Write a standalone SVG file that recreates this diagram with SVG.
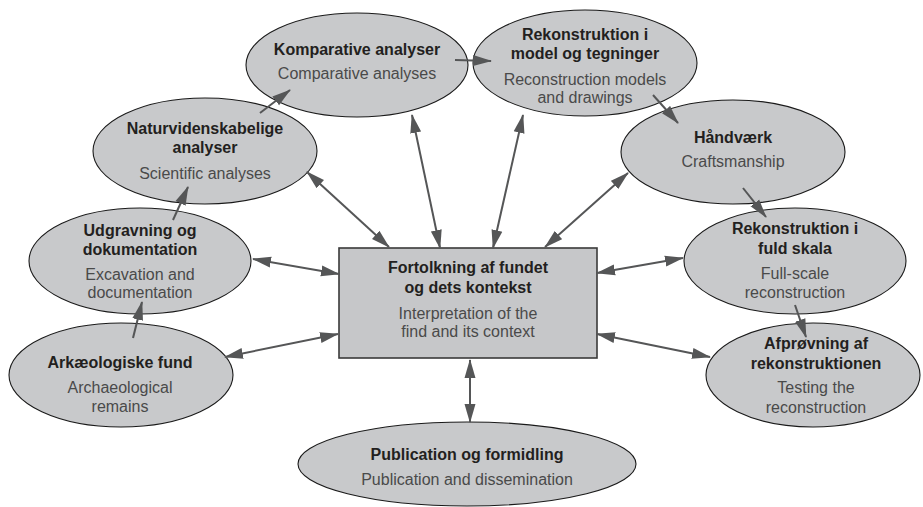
<svg xmlns="http://www.w3.org/2000/svg" width="923" height="507" viewBox="0 0 923 507">
<style>
.bg{fill:#ffffff}
.node ellipse{fill:#c8c9cb;stroke:#1a1a1a;stroke-width:1.1}
.node rect{fill:#c6c7c9;stroke:#3a3a3a;stroke-width:1.6}
.t{font-family:"Liberation Sans",Arial,Helvetica,sans-serif;font-size:16px;font-weight:bold;fill:#231f20;text-anchor:middle}
.s{font-family:"Liberation Sans",Arial,Helvetica,sans-serif;font-size:16px;fill:#4a4a4a;text-anchor:middle}
.c line{stroke:#555657;stroke-width:2;fill:none}
.one{marker-end:url(#ah)}
.two{marker-end:url(#ah);marker-start:url(#ah)}
</style>
<defs>
<marker id="ah" markerUnits="userSpaceOnUse" markerWidth="20" markerHeight="12" viewBox="0 0 20 12" refX="18" refY="6" orient="auto-start-reverse">
<path d="M0,0.5 L19,6 L0,11.5 z" fill="#555657"/>
</marker>
</defs>
<rect class="bg" x="0" y="0" width="923" height="507"/>

<g id="n-komparative" class="node">
<ellipse cx="357" cy="65" rx="111" ry="52"/>
<text class="t" x="357" y="55">Komparative analyser</text>
<text class="s" x="357" y="79">Comparative analyses</text>
</g>
<g id="n-model" class="node">
<ellipse cx="585" cy="63" rx="112" ry="53"/>
<text class="t" x="585" y="40">Rekonstruktion i</text>
<text class="t" x="585" y="59">model og tegninger</text>
<text class="s" x="585" y="85">Reconstruction models</text>
<text class="s" x="585" y="103">and drawings</text>
</g>
<g id="n-haandvaerk" class="node">
<ellipse cx="733" cy="152" rx="112" ry="52"/>
<text class="t" x="733" y="143">Håndværk</text>
<text class="s" x="733" y="167">Craftsmanship</text>
</g>
<g id="n-fuldskala" class="node">
<ellipse cx="795" cy="261" rx="111" ry="53"/>
<text class="t" x="795" y="234">Rekonstruktion i</text>
<text class="t" x="795" y="254">fuld skala</text>
<text class="s" x="795" y="279">Full-scale</text>
<text class="s" x="795" y="298">reconstruction</text>
</g>
<g id="n-afproevning" class="node">
<ellipse cx="813" cy="375" rx="107" ry="52"/>
<text class="t" x="816" y="349">Afprøvning af</text>
<text class="t" x="816" y="369">rekonstruktionen</text>
<text class="s" x="816" y="393">Testing the</text>
<text class="s" x="816" y="413">reconstruction</text>
</g>
<g id="n-naturvid" class="node">
<ellipse cx="205" cy="151" rx="112" ry="53"/>
<text class="t" x="205" y="134">Naturvidenskabelige</text>
<text class="t" x="205" y="153">analyser</text>
<text class="s" x="205" y="179">Scientific analyses</text>
</g>
<g id="n-udgravning" class="node">
<ellipse cx="140" cy="261" rx="111" ry="53"/>
<text class="t" x="140" y="236">Udgravning og</text>
<text class="t" x="140" y="255">dokumentation</text>
<text class="s" x="140" y="280">Excavation and</text>
<text class="s" x="140" y="298">documentation</text>
</g>
<g id="n-fund" class="node">
<ellipse cx="121" cy="375" rx="112" ry="52"/>
<text class="t" x="120" y="368">Arkæologiske fund</text>
<text class="s" x="120" y="393">Archaeological</text>
<text class="s" x="120" y="412">remains</text>
</g>
<g id="n-publication" class="node">
<ellipse cx="467" cy="464" rx="169" ry="42"/>
<text class="t" x="467" y="460">Publication og formidling</text>
<text class="s" x="467" y="485">Publication and dissemination</text>
</g>
<g id="n-center" class="node">
<rect x="339" y="248" width="258" height="110"/>
<text class="t" x="468" y="273">Fortolkning af fundet</text>
<text class="t" x="468" y="293">og dets kontekst</text>
<text class="s" x="468" y="319">Interpretation of the</text>
<text class="s" x="468" y="337">find and its context</text>
</g>

<g id="connectors" class="c">
<line class="one" x1="260" y1="113" x2="290" y2="90"/>
<line class="one" x1="173" y1="220" x2="188" y2="187"/>
<line class="one" x1="133" y1="338" x2="142" y2="302"/>
<line class="one" x1="455" y1="60" x2="491" y2="61"/>
<line class="one" x1="653" y1="95" x2="678" y2="123"/>
<line class="one" x1="743" y1="188" x2="766" y2="217"/>
<line class="one" x1="795" y1="305" x2="806" y2="337"/>
<line class="two" x1="307" y1="172" x2="389" y2="247"/>
<line class="two" x1="412" y1="115" x2="440" y2="248"/>
<line class="two" x1="523" y1="115" x2="493" y2="248"/>
<line class="two" x1="628" y1="173" x2="545" y2="247"/>
<line class="two" x1="253" y1="259" x2="339" y2="274"/>
<line class="two" x1="225" y1="357" x2="338" y2="334"/>
<line class="two" x1="597" y1="273" x2="683" y2="258"/>
<line class="two" x1="597" y1="334" x2="710" y2="357"/>
<line class="two" x1="470" y1="360" x2="470" y2="422"/>
</g>
</svg>
